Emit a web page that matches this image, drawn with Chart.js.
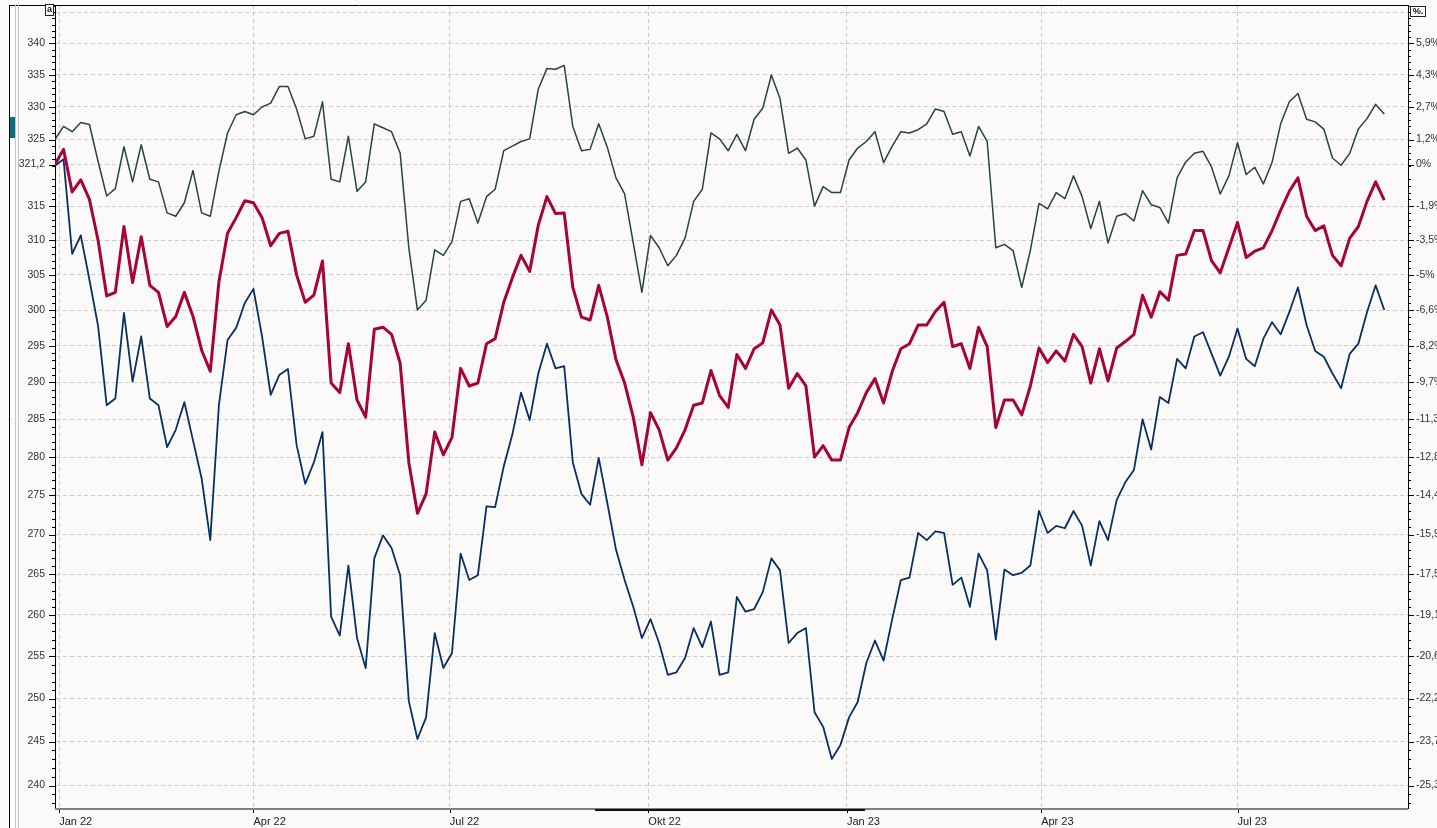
<!DOCTYPE html>
<html>
<head>
<meta charset="utf-8">
<script src="https://cdn.jsdelivr.net/npm/chart.js@4.4.1/dist/chart.umd.min.js"></script>
<style>
  html, body { margin: 0; padding: 0; background: #fbfaf9; overflow: hidden; }
  canvas { display: block; }
</style>
</head>
<body>
<canvas id="chart" width="1437" height="828"></canvas>
<script>
// sampling of the three series: one value every 4 calendar days
const firstDate = '2021-12-30';
const stepDays = 4;

const quarterDates = ['2022-01-01', '2022-04-01', '2022-07-01', '2022-10-01', '2023-01-01', '2023-04-01', '2023-07-01'];
const quarterLabels = ['Jan 22', 'Apr 22', 'Jul 22', 'Okt 22', 'Jan 23', 'Apr 23', 'Jul 23'];

const refValue = 321.2;
const leftTicks = [240, 245, 250, 255, 260, 265, 270, 275, 280, 285, 290, 295, 300, 305, 310, 315, 321.2, 325, 330, 335, 340, 345];
const leftLabels = ['240', '245', '250', '255', '260', '265', '270', '275', '280', '285', '290', '295', '300', '305', '310', '315', '321,2', '325', '330', '335', '340', ''];
const pctLabels = ['-25,3%', '-23,7%', '-22,2%', '-20,6%', '-19,1%', '-17,5%', '-15,9%', '-14,4%', '-12,8%', '-11,3%', '-9,7%', '-8,2%', '-6,6%', '-5%', '-3,5%', '-1,9%', '0%', '1,2%', '2,7%', '4,3%', '5,9%', ''];

const greenSeries = [
  325.0, 327.0, 326.2, 327.6, 327.3, 321.7, 316.5, 317.6, 323.9, 318.6,
  324.2, 319.0, 318.6, 314.0, 313.5, 315.5, 320.3, 314.0, 313.5, 320.2,
  326.0, 328.8, 329.3, 328.8, 330.0, 330.6, 333.2, 333.2, 329.7, 325.1,
  325.5, 330.8, 319.0, 318.6, 325.5, 317.2, 318.6, 327.4, 326.8, 326.2,
  322.9, 308.9, 300.0, 301.4, 308.6, 307.8, 309.8, 315.7, 316.1, 312.5,
  316.4, 317.5, 323.3, 324.0, 324.7, 325.1, 332.8, 336.0, 335.9, 336.5,
  327.0, 323.3, 323.5, 327.4, 323.8, 319.2, 316.8, 309.6, 302.5, 310.7,
  308.9, 306.3, 307.8, 310.3, 315.7, 317.5, 326.0, 325.1, 323.3, 325.8,
  323.3, 328.1, 329.8, 335.0, 331.3, 322.9, 323.7, 321.9, 315.0, 317.9,
  317.0, 317.0, 321.9, 323.7, 324.7, 326.2, 321.5, 324.0, 326.2, 326.0,
  326.5, 327.4, 329.7, 329.3, 325.8, 326.2, 322.5, 327.0, 324.7, 308.9,
  309.4, 308.5, 303.2, 308.5, 315.4, 314.6, 317.0, 316.1, 319.5, 316.4,
  311.7, 315.7, 309.6, 313.5, 313.9, 312.8, 317.3, 315.2, 314.8, 312.5,
  319.2, 321.6, 322.9, 323.2, 320.8, 316.8, 319.5, 324.5, 319.7, 320.8,
  318.3, 321.5, 327.4, 330.8, 332.1, 328.1, 327.7, 326.6, 322.2, 321.1,
  322.9, 326.6, 328.2, 330.4, 328.9
];

const redSeries = [
  321.2, 323.5, 317.1, 318.9, 316.0, 310.0, 302.0, 302.5, 312.0, 303.9,
  310.5, 303.5, 302.5, 297.7, 299.1, 302.5, 299.1, 294.4, 291.5, 304.0,
  311.0, 313.3, 315.8, 315.5, 313.3, 309.2, 311.0, 311.3, 305.0, 301.1,
  302.1, 307.0, 289.9, 288.6, 295.3, 287.6, 285.3, 297.3, 297.6, 296.6,
  292.6, 279.3, 272.7, 275.2, 283.3, 280.3, 282.6, 291.9, 289.5, 289.9,
  295.3, 296.0, 301.1, 304.6, 307.8, 305.5, 312.2, 316.4, 313.9, 314.0,
  303.2, 299.0, 298.6, 303.5, 299.0, 293.1, 289.9, 285.3, 279.0, 285.9,
  283.6, 279.6, 281.2, 283.6, 286.9, 287.2, 291.6, 288.2, 286.6, 293.8,
  291.9, 294.6, 295.4, 300.0, 297.9, 289.2, 291.2, 289.5, 280.0, 281.5,
  279.6, 279.6, 283.9, 285.9, 288.6, 290.5, 287.2, 291.5, 294.6, 295.3,
  297.9, 297.9, 299.8, 301.1, 294.9, 295.3, 291.9, 297.6, 294.9, 283.9,
  287.6, 287.6, 285.6, 289.5, 294.7, 292.7, 294.3, 292.9, 296.6, 294.9,
  289.9, 294.6, 290.2, 294.7, 295.6, 296.6, 302.1, 299.0, 302.6, 301.4,
  307.8, 308.0, 311.4, 311.4, 307.0, 305.3, 308.9, 312.6, 307.5, 308.4,
  308.9, 311.4, 314.4, 317.2, 319.2, 313.5, 311.4, 312.1, 307.8, 306.3,
  310.3, 312.0, 315.7, 318.6, 315.9
];

const blueSeries = [
  321.0, 322.0, 308.0, 310.7, 304.3, 297.8, 286.9, 287.8, 299.6, 290.1,
  296.3, 287.8, 286.9, 281.3, 283.6, 287.3, 282.2, 277.2, 269.3, 286.9,
  295.8, 297.5, 301.0, 303.0, 296.3, 288.3, 291.0, 291.8, 281.6, 276.5,
  279.3, 283.3, 259.8, 257.5, 266.1, 257.2, 253.6, 267.0, 269.9, 268.3,
  264.9, 249.7, 245.3, 247.8, 257.8, 253.6, 255.4, 267.6, 264.3, 264.9,
  273.6, 273.5, 278.8, 283.0, 288.6, 284.9, 291.2, 295.3, 291.9, 292.2,
  279.3, 275.2, 273.8, 279.9, 274.0, 268.1, 264.3, 261.0, 257.2, 259.5,
  256.6, 252.8, 253.1, 254.8, 258.4, 256.1, 259.2, 252.8, 253.1, 262.2,
  260.4, 260.7, 262.8, 267.0, 265.5, 256.6, 257.8, 258.4, 248.4, 246.7,
  243.0, 244.6, 247.8, 249.6, 254.2, 256.9, 254.5, 259.5, 264.3, 264.6,
  270.2, 269.3, 270.4, 270.2, 263.7, 264.6, 261.0, 267.6, 265.5, 257.0,
  265.6, 264.9, 265.2, 266.1, 273.0, 270.2, 271.1, 270.8, 273.0, 271.1,
  266.1, 271.7, 269.3, 274.4, 276.7, 278.3, 285.0, 281.0, 288.0, 287.2,
  293.2, 291.9, 296.3, 296.9, 293.9, 290.9, 293.5, 297.4, 293.2, 292.2,
  296.0, 298.3, 296.6, 299.7, 303.2, 297.9, 294.3, 293.5, 291.2, 289.2,
  293.9, 295.3, 299.7, 303.5, 300.0
];

const dayOf = d => Math.round((Date.parse(d) - Date.parse('2022-01-01')) / 864e5);
const startDay = dayOf(firstDate);
const quarterDays = quarterDates.map(dayOf);
const toPoints = values => values.map((v, i) => ({ x: startDay + i * stepDays, y: v }));

const gridColor = '#cbcbcb';
const textColor = '#333';

// the axes keep fixed sizes so the plot box lands where the original has it
const fixWidth = w => s => { s.width = w; s.paddingTop = 0; s.paddingBottom = 0; };

// background, tick marks and the frame around the plot
const framePlugin = {
  id: 'frame',
  beforeDraw(chart) {
    const { ctx, width, height } = chart;
    ctx.save();
    ctx.fillStyle = '#fbfaf9';
    ctx.fillRect(0, 0, width, height);
    ctx.restore();
  },
  afterDraw(chart) {
    const { ctx, chartArea: a, scales: { x, y } } = chart;
    ctx.save();
    ctx.strokeStyle = '#000';
    ctx.lineWidth = 1;
    ctx.beginPath();
    for (let v = Math.ceil(y.min); v <= y.max; v++) {
      if (v % 5 === 0) continue;
      const py = Math.round(y.getPixelForValue(v)) + 0.5;
      ctx.moveTo(a.left - 3, py); ctx.lineTo(a.left, py);
      ctx.moveTo(a.right, py); ctx.lineTo(a.right + 3, py);
    }
    leftTicks.forEach(v => {
      const py = Math.round(y.getPixelForValue(v)) + 0.5;
      ctx.moveTo(a.left - 6, py); ctx.lineTo(a.left, py);
      ctx.moveTo(a.right, py); ctx.lineTo(a.right + 6, py);
    });
    quarterDays.forEach(d => {
      const px = Math.round(x.getPixelForValue(d)) + 0.5;
      ctx.moveTo(px, a.bottom); ctx.lineTo(px, a.bottom + 5);
    });
    ctx.stroke();

    // top border and outer left frame
    ctx.beginPath();
    ctx.moveTo(10, a.top + 0.5); ctx.lineTo(a.right, a.top + 0.5);
    ctx.moveTo(9.5, a.top); ctx.lineTo(9.5, chart.height);
    ctx.stroke();
    ctx.strokeStyle = '#b9c9d3';
    ctx.beginPath();
    ctx.moveTo(15.5, a.top); ctx.lineTo(15.5, chart.height);
    ctx.moveTo(18.5, a.top); ctx.lineTo(18.5, chart.height);
    ctx.stroke();
    ctx.fillStyle = '#0f6a80';
    ctx.fillRect(10, 117, 5, 21);

    // bottom axis line and scroll marker
    ctx.strokeStyle = '#808080';
    ctx.lineWidth = 2;
    ctx.beginPath();
    ctx.moveTo(a.left, a.bottom + 1); ctx.lineTo(a.right, a.bottom + 1);
    ctx.stroke();
    ctx.strokeStyle = '#111';
    ctx.beginPath();
    ctx.moveTo(595, a.bottom + 2); ctx.lineTo(865, a.bottom + 2);
    ctx.stroke();

    // small boxes in the top corners
    ctx.lineWidth = 1;
    ctx.strokeStyle = '#222';
    ctx.fillStyle = '#fff';
    ctx.fillRect(45.5, 4.5, 8, 11);
    ctx.strokeRect(45.5, 4.5, 8, 11);
    ctx.fillRect(1410.5, 6.5, 15, 10);
    ctx.strokeRect(1410.5, 6.5, 15, 10);
    ctx.fillStyle = '#111';
    ctx.font = 'bold 9px "Liberation Sans"';
    ctx.textBaseline = 'middle';
    ctx.textAlign = 'center';
    ctx.fillText('a', 49.5, 10);
    ctx.fillText('%.', 1418, 11.5);
    ctx.restore();
  }
};

const ctx = document.getElementById('chart').getContext('2d');
new Chart(ctx, {
  type: 'line',
  data: {
    datasets: [
      { label: 'red', data: toPoints(redSeries), borderColor: '#a6033b', borderWidth: 3, order: 0 },
      { label: 'blue', data: toPoints(blueSeries), borderColor: '#0b2f5f', borderWidth: 1.8, order: 1 },
      { label: 'green', data: toPoints(greenSeries), borderColor: '#27463a', borderWidth: 1.5, order: 2 }
    ]
  },
  options: {
    responsive: false,
    devicePixelRatio: 1,
    animation: false,
    layout: { padding: { top: 5, left: 0, right: 0, bottom: 0 } },
    elements: { point: { radius: 0 }, line: { tension: 0, borderJoinStyle: 'round' } },
    plugins: { legend: { display: false }, tooltip: { enabled: false } },
    scales: {
      x: {
        type: 'linear',
        min: -1.95,
        max: 625,
        afterBuildTicks: s => { s.ticks = quarterDays.map(v => ({ value: v })); },
        afterFit: s => { s.height = 20; s.paddingLeft = 0; s.paddingRight = 0; },
        ticks: {
          callback: (v, i) => quarterLabels[i],
          align: 'start',
          autoSkip: false,
          maxRotation: 0,
          padding: 7,
          color: '#222',
          font: { family: 'Liberation Sans', size: 11 }
        },
        grid: { color: gridColor, drawTicks: false },
        border: { display: false, dash: [4, 3] }
      },
      y: {
        type: 'logarithmic',
        position: 'left',
        min: 237.48,
        max: 346.18,
        afterBuildTicks: s => { s.ticks = leftTicks.map(v => ({ value: v })); },
        afterFit: fixWidth(55),
        ticks: {
          callback: (v, i) => leftLabels[i],
          autoSkip: false,
          padding: 10,
          color: textColor,
          font: { family: 'Liberation Sans', size: 10.5 }
        },
        grid: { color: gridColor, drawTicks: false },
        border: { display: true, color: '#000', width: 1, dash: [4, 3] }
      },
      y2: {
        type: 'logarithmic',
        position: 'right',
        min: 237.48,
        max: 346.18,
        afterBuildTicks: s => { s.ticks = leftTicks.map(v => ({ value: v })); },
        afterFit: fixWidth(29),
        ticks: {
          callback: (v, i) => pctLabels[i],
          autoSkip: false,
          padding: 8,
          color: textColor,
          font: { family: 'Liberation Sans', size: 10.5 }
        },
        grid: { drawOnChartArea: false, drawTicks: false },
        border: { display: true, color: '#000', width: 1 }
      }
    }
  },
  plugins: [framePlugin]
});
</script>
</body>
</html>
